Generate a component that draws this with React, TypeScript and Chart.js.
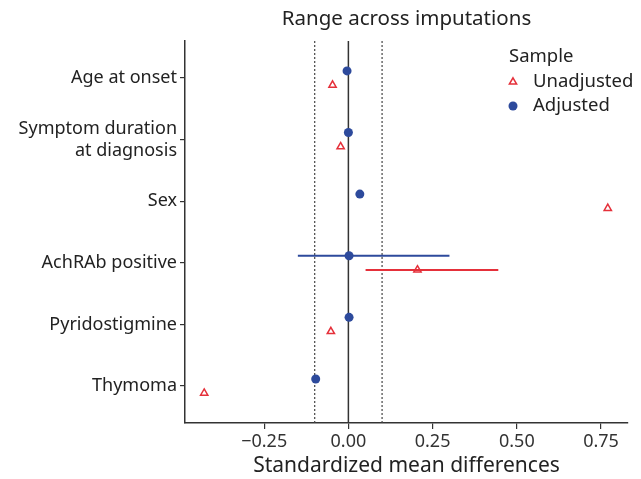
import React, { useEffect, useRef } from "react";
import { Chart, registerables } from "chart.js";

Chart.register(...registerables);

const categories: (string | string[])[] = [
  "Age at onset",
  ["Symptom duration", "at diagnosis"],
  "Sex",
  "AchRAb positive",
  "Pyridostigmine",
  "Thymoma",
];
const unadjusted = [-0.047, -0.023, 0.77, 0.205, -0.052, -0.428];
const adjusted = [-0.004, 0.0, 0.034, 0.002, 0.002, -0.097];
const unadjustedMin = [-0.047, -0.023, 0.77, 0.051, -0.052, -0.428];
const unadjustedMax = [-0.047, -0.023, 0.77, 0.445, -0.052, -0.428];
const adjustedMin = [-0.004, 0.0, 0.034, -0.15, 0.002, -0.097];
const adjustedMax = [-0.004, 0.0, 0.034, 0.3, 0.002, -0.097];
const xTicks = [-0.25, 0, 0.25, 0.5, 0.75];
const thresholds = [-0.1, 0.1];
const titleText = "Range across imputations";
const xTitle = "Standardized mean differences";
const legendTitle = "Sample";
const seriesNames = ["Unadjusted", "Adjusted"];

const RED = "#E5303A";
const BLUE = "#2D4A9C";
const FONT = "'Noto Sans', sans-serif";
const N = categories.length;
const OFF = 0.115;
const yPos = (i: number) => N - i;

export default function App() {
  const ref = useRef<HTMLCanvasElement | null>(null);
  useEffect(() => {
    document.body.style.margin = "0";
    document.body.style.overflow = "hidden";
    const canvas = ref.current!;
    const rangeSets: any[] = [];
    categories.forEach((_, i) => {
      rangeSets.push({
        type: "line",
        data: [
          { x: adjustedMin[i], y: yPos(i) + OFF },
          { x: adjustedMax[i], y: yPos(i) + OFF },
        ],
        borderColor: BLUE,
        borderWidth: 2,
        pointRadius: 0,
        showLine: true,
        order: 2,
      });
      rangeSets.push({
        type: "line",
        data: [
          { x: unadjustedMin[i], y: yPos(i) - OFF },
          { x: unadjustedMax[i], y: yPos(i) - OFF },
        ],
        borderColor: RED,
        borderWidth: 2,
        pointRadius: 0,
        showLine: true,
        order: 2,
      });
    });

    const refLines = {
      id: "refLines",
      beforeDatasetsDraw(chart: any) {
        const { ctx, chartArea, scales } = chart;
        const x = scales.x;
        ctx.save();
        ctx.strokeStyle = "#333";
        ctx.lineWidth = 1.5;
        const x0 = x.getPixelForValue(0);
        ctx.beginPath();
        ctx.moveTo(x0, chartArea.top);
        ctx.lineTo(x0, chartArea.bottom);
        ctx.stroke();
        ctx.setLineDash([2, 2]);
        ctx.lineWidth = 1.2;
        ctx.strokeStyle = "#444";
        thresholds.forEach((t) => {
          const px = x.getPixelForValue(t);
          ctx.beginPath();
          ctx.moveTo(px, chartArea.top);
          ctx.lineTo(px, chartArea.bottom);
          ctx.stroke();
        });
        ctx.restore();
      },
      afterDraw(chart: any) {
        const { ctx, chartArea } = chart;
        ctx.save();
        ctx.fillStyle = "#222";
        ctx.textBaseline = "middle";
        ctx.textAlign = "center";
        ctx.font = `20.5px ${FONT}`;
        ctx.fillText(titleText, (chartArea.left + chartArea.right) / 2, 19);
        // legend
        ctx.textAlign = "left";
        ctx.font = `18.5px ${FONT}`;
        ctx.fillText(legendTitle, 509, 57);
        ctx.fillText(seriesNames[0], 533, 82);
        ctx.fillText(seriesNames[1], 533, 106);
        // triangle marker
        const r = 4.2;
        ctx.strokeStyle = RED;
        ctx.lineWidth = 1.5;
        ctx.beginPath();
        const cx = 513, cy = 82;
        for (let k = 0; k < 3; k++) {
          const a = (k * 2 * Math.PI) / 3;
          const px = cx + Math.sin(a) * r;
          const py = cy - Math.cos(a) * r;
          if (k === 0) ctx.moveTo(px, py);
          else ctx.lineTo(px, py);
        }
        ctx.closePath();
        ctx.stroke();
        ctx.fillStyle = BLUE;
        ctx.beginPath();
        ctx.arc(513, 106, 4.5, 0, Math.PI * 2);
        ctx.fill();
        ctx.restore();
      },
    };

    const chart = new Chart(canvas, {
      type: "scatter",
      data: {
        datasets: [
          {
            label: seriesNames[1],
            data: adjusted.map((v, i) => ({ x: v, y: yPos(i) + OFF })),
            pointStyle: "circle",
            pointRadius: 4.5,
            backgroundColor: BLUE,
            borderColor: BLUE,
            borderWidth: 0,
            order: 0,
          },
          {
            label: seriesNames[0],
            data: unadjusted.map((v, i) => ({ x: v, y: yPos(i) - OFF })),
            pointStyle: "triangle",
            pointRadius: 4.2,
            backgroundColor: "rgba(0,0,0,0)",
            borderColor: RED,
            borderWidth: 1.5,
            order: 1,
          },
          ...rangeSets,
        ],
      },
      options: {
        animation: false,
        responsive: false,
        maintainAspectRatio: false,
        layout: { padding: { top: 41, right: 13, left: 0, bottom: 0 } },
        plugins: {
          legend: { display: false },
          tooltip: { enabled: false },
          title: { display: false },
        },
        scales: {
          x: {
            type: "linear",
            min: -0.485,
            max: 0.83,
            afterBuildTicks: (s: any) => {
              s.ticks = xTicks.map((v) => ({ value: v }));
            },
            afterFit: (s: any) => {
              s.height = 56;
            },
            ticks: {
              color: "#333",
              font: { family: FONT, size: 18 },
              padding: 2,
              callback: (v: any) => {
                const n = Number(v);
                const s = Math.abs(n).toFixed(2);
                return n < 0 ? "\u2212" + s : s;
              },
            },
            grid: {
              display: true,
              drawOnChartArea: false,
              drawTicks: true,
              tickLength: 6,
              color: "#333",
              lineWidth: 1.2,
            },
            border: { display: true, color: "#333", width: 1.5 },
            title: {
              display: true,
              text: xTitle,
              color: "#222",
              font: { family: FONT, size: 21 },
              padding: { top: 0, bottom: 0 },
            },
          },
          y: {
            type: "linear",
            min: 0.4,
            max: 6.6,
            afterBuildTicks: (s: any) => {
              s.ticks = categories.map((_, i) => ({ value: yPos(i) }));
            },
            afterFit: (s: any) => {
              s.width = 185;
            },
            ticks: {
              color: "#222",
              font: { family: FONT, size: 18, lineHeight: 1.22 },
              padding: 3,
              callback: (v: any) => categories[N - Number(v)] as any,
            },
            grid: {
              display: true,
              drawOnChartArea: false,
              drawTicks: true,
              tickLength: 5,
              color: "#333",
              lineWidth: 1.2,
            },
            border: { display: true, color: "#333", width: 1.5 },
          },
        },
      } as any,
      plugins: [refLines],
    });
    return () => chart.destroy();
  }, []);
  return (
    <div style={{ width: 641, height: 479 }}>
      <canvas ref={ref} width={641} height={479} style={{ width: 641, height: 479, display: "block" }} />
    </div>
  );
}
